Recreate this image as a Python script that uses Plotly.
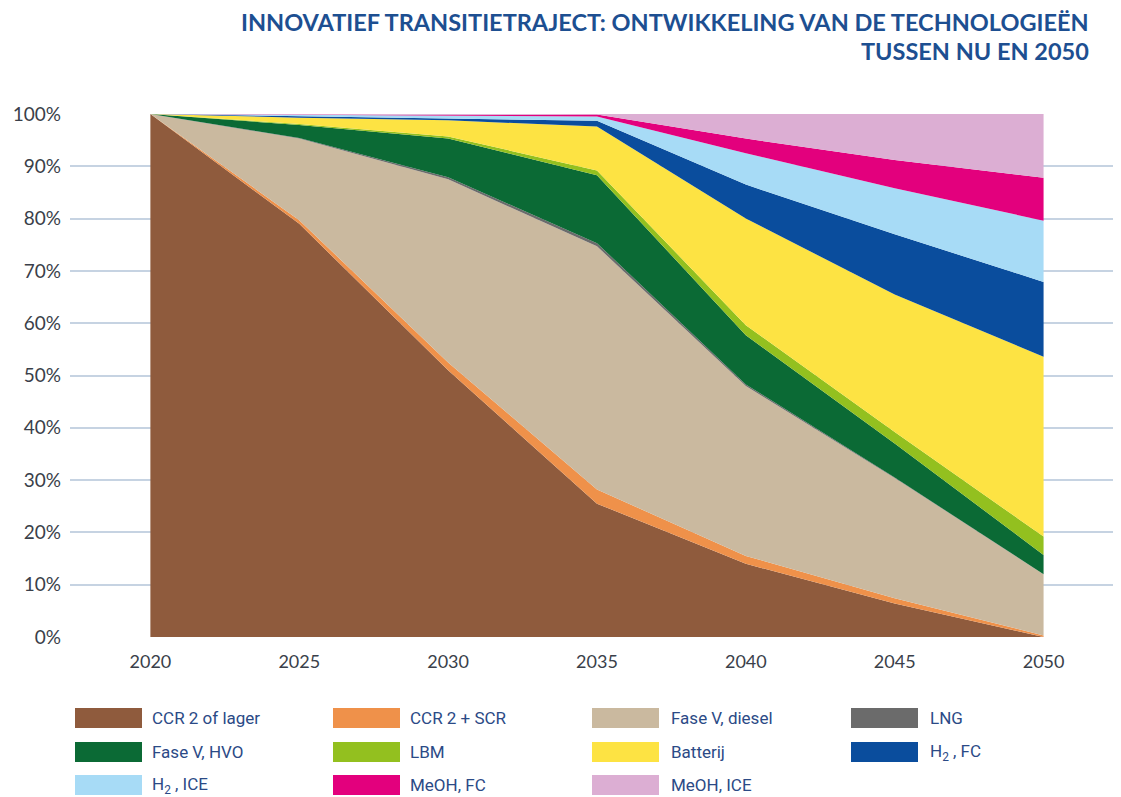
import plotly.graph_objects as go

years = [2020, 2025, 2030, 2035, 2040, 2045, 2050]

ccr2_lager = [100, 79.0, 51.0, 25.5, 14.0, 6.4, 0.0]
ccr2_scr = [0, 0.7, 1.5, 2.7, 1.5, 1.0, 0.3]
fase5_diesel = [0, 15.6, 35.0, 46.5, 32.5, 23.0, 11.7]
lng = [0, 0.1, 0.4, 0.6, 0.3, 0.1, 0.0]
fase5_hvo = [0, 2.5, 7.4, 13.0, 9.4, 6.5, 3.7]
lbm = [0, 0.2, 0.4, 0.9, 1.9, 2.2, 3.5]
batterij = [0, 1.2, 3.1, 8.4, 20.4, 26.3, 34.4]
h2_fc = [0, 0.3, 0.4, 1.1, 6.5, 11.5, 14.3]
h2_ice = [0, 0.2, 0.4, 0.8, 6.0, 8.8, 11.7]
meoh_fc = [0, 0.1, 0.2, 0.4, 2.8, 5.4, 8.2]
meoh_ice = [0, 0.1, 0.2, 0.1, 4.7, 8.8, 12.2]

series_names = ["CCR 2 of lager", "CCR 2 + SCR", "Fase V, diesel", "LNG",
                "Fase V, HVO", "LBM", "Batterij", "H<sub>2</sub> , FC",
                "H<sub>2</sub> , ICE", "MeOH, FC", "MeOH, ICE"]
series_values = [ccr2_lager, ccr2_scr, fase5_diesel, lng, fase5_hvo, lbm,
                 batterij, h2_fc, h2_ice, meoh_fc, meoh_ice]
colors = ["#8f5b3d", "#ef914a", "#cab99f", "#6b6b6b", "#0b6a35", "#93c01f",
          "#fde343", "#0a4d9d", "#a7dbf6", "#e3007d", "#dcaed3"]

y_ticks = list(range(0, 101, 10))
y_tick_labels = [f"{v}%" for v in y_ticks]

fig = go.Figure()
for name, vals, col in zip(series_names, series_values, colors):
    fig.add_trace(go.Scatter(
        x=years, y=vals, name=name, stackgroup="one", mode="lines",
        line=dict(width=0, color=col), fillcolor=col, showlegend=False,
        hoverinfo="skip"))

# the page body adds an 8px margin; work in reference pixels minus that offset
OFF = 8
FW, FH = 1121 - OFF, 797 - OFF
L, R, T, B = 70 - OFF, 1118 - OFF, 114 - OFF, 637 - OFF
W, H = R - L, B - T

def px(x):
    return (x - OFF - L) / W

def py(y):
    return (B - (y - OFF)) / H

title_font = dict(family="Lato, Open Sans, sans-serif", size=23.5, color="#1d4f91")
annotations = [
    dict(text="<b>INNOVATIEF TRANSITIETRAJECT: ONTWIKKELING VAN DE TECHNOLOGIEËN</b>",
         xref="paper", yref="paper", x=px(1091), y=py(22), xanchor="right",
         yanchor="middle", showarrow=False, font=title_font),
    dict(text="<b>TUSSEN NU EN 2050</b>",
         xref="paper", yref="paper", x=px(1091), y=py(51), xanchor="right",
         yanchor="middle", showarrow=False, font=title_font),
]

shapes = []
col_sw = [75, 333, 592, 851]
col_tx = [150, 408, 669, 928]
row_y = [718, 752, 785]
for i, (name, col) in enumerate(zip(series_names, colors)):
    r, c = divmod(i, 4)
    x0 = col_sw[c]
    yc = row_y[r]
    shapes.append(dict(type="rect", xref="paper", yref="paper",
                       x0=px(x0), x1=px(x0 + 67), y0=py(yc - 10), y1=py(yc + 10),
                       fillcolor=col, line=dict(width=0)))
    annotations.append(dict(text=name, xref="paper", yref="paper",
                            x=px(col_tx[c]), y=py(yc), xanchor="left",
                            yanchor="middle", showarrow=False,
                            font=dict(family="Roboto, sans-serif",
                                      size=17, color="#2b4a86")))

fig.update_layout(
    width=FW, height=FH,
    margin=dict(l=L, r=FW - R, t=T, b=FH - B),
    paper_bgcolor="white", plot_bgcolor="white",
    showlegend=False,
    annotations=annotations, shapes=shapes,
    xaxis=dict(range=[2017.3, 2052.5], tickvals=years,
               ticktext=[str(y) for y in years], showgrid=False,
               zeroline=False, showline=False, ticks="",
               ticklabelstandoff=12,
               tickfont=dict(family="Lato, Open Sans, sans-serif", size=18, color="#3a3f4a")),
    yaxis=dict(range=[0, 100], tickvals=y_ticks, ticktext=y_tick_labels,
               showgrid=True, gridcolor="#c6d3e2", gridwidth=1.5,
               zeroline=False, showline=False, ticks="",
               ticklabelstandoff=8,
               tickfont=dict(family="Lato, Open Sans, sans-serif", size=19, color="#3a3f4a")),
)

fig.write_html("out.html")
